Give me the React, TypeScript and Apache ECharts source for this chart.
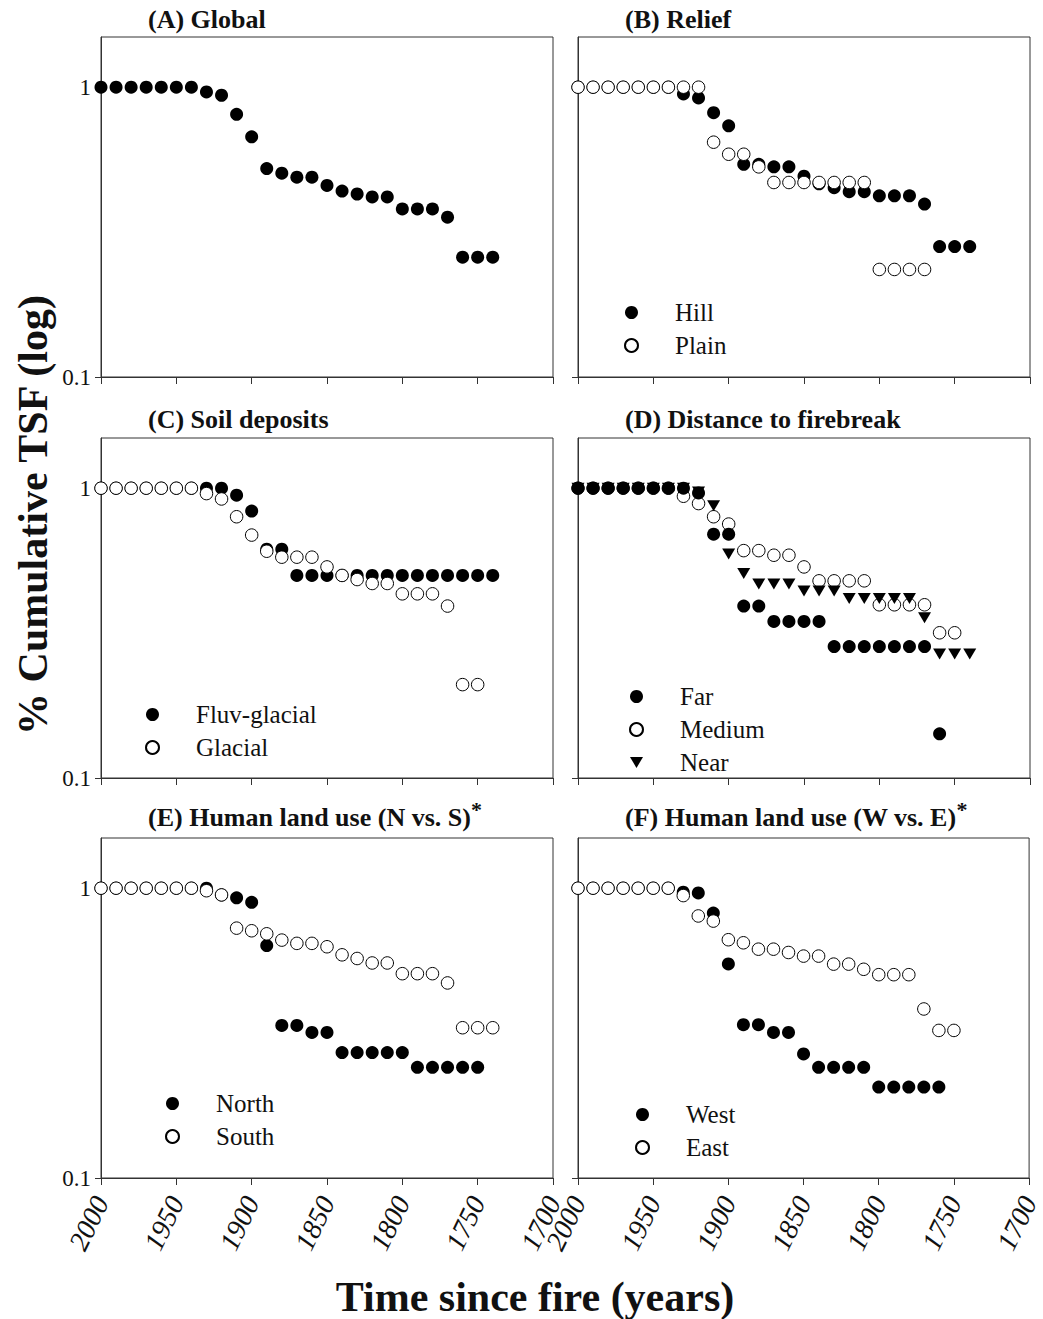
import React, { useEffect, useRef } from "react";
import * as echarts from "echarts";

// Years (time since fire), one point per decade, starting at 2000
const YEARS = [2000, 1990, 1980, 1970, 1960, 1950, 1940, 1930, 1920, 1910, 1900, 1890, 1880, 1870, 1860, 1850, 1840, 1830, 1820, 1810, 1800, 1790, 1780, 1770, 1760, 1750, 1740];

const X_TICKS = [2000, 1950, 1900, 1850, 1800, 1750, 1700];
const Y_TICKS = [0.1, 1];

// (A) Global
const globalAll = [1, 1, 1, 1, 1, 1, 1, 0.963, 0.938, 0.806, 0.674, 0.524, 0.505, 0.489, 0.489, 0.458, 0.438, 0.428, 0.418, 0.418, 0.38, 0.38, 0.38, 0.356, 0.259, 0.259, 0.259];
// (B) Relief
const reliefHill = [1, 1, 1, 1, 1, 1, 1, 0.948, 0.918, 0.817, 0.736, 0.542, 0.542, 0.531, 0.531, 0.493, 0.464, 0.45, 0.436, 0.436, 0.422, 0.422, 0.422, 0.395, 0.282, 0.282, 0.282];
const reliefPlain = [1, 1, 1, 1, 1, 1, 1, 1, 1, 0.646, 0.587, 0.587, 0.531, 0.469, 0.469, 0.469, 0.469, 0.469, 0.469, 0.469, 0.235, 0.235, 0.235, 0.235];
// (C) Soil deposits
const soilFluv = [1, 1, 1, 1, 1, 1, 1, 1, 1, 0.946, 0.834, 0.616, 0.616, 0.5, 0.5, 0.5, 0.5, 0.5, 0.5, 0.5, 0.5, 0.5, 0.5, 0.5, 0.5, 0.5, 0.5];
const soilGlacial = [1, 1, 1, 1, 1, 1, 1, 0.958, 0.918, 0.797, 0.689, 0.606, 0.578, 0.578, 0.578, 0.535, 0.5, 0.484, 0.469, 0.469, 0.432, 0.432, 0.432, 0.392, 0.21, 0.21];
// (D) Distance to firebreak
const distFar = [1, 1, 1, 1, 1, 1, 1, 1, 0.963, 0.694, 0.694, 0.392, 0.392, 0.347, 0.347, 0.347, 0.347, 0.284, 0.284, 0.284, 0.284, 0.284, 0.284, 0.284, 0.142];
const distMedium = [1, 1, 1, 1, 1, 1, 1, 0.938, 0.885, 0.797, 0.752, 0.609, 0.609, 0.587, 0.587, 0.535, 0.479, 0.479, 0.479, 0.479, 0.396, 0.396, 0.396, 0.396, 0.317, 0.317];
const distNear = [1, 1, 1, 1, 1, 1, 1, 1, 0.97, 0.87, 0.593, 0.508, 0.467, 0.467, 0.467, 0.442, 0.442, 0.442, 0.416, 0.416, 0.416, 0.416, 0.416, 0.357, 0.268, 0.268, 0.268];
// (E) Human land use N vs S
const landNorth = [1, 1, 1, 1, 1, 1, 1, 1, 0.948, 0.926, 0.894, 0.634, 0.336, 0.336, 0.318, 0.318, 0.271, 0.271, 0.271, 0.271, 0.271, 0.241, 0.241, 0.241, 0.241, 0.241];
const landSouth = [1, 1, 1, 1, 1, 1, 1, 0.98, 0.948, 0.728, 0.713, 0.696, 0.662, 0.645, 0.645, 0.628, 0.589, 0.572, 0.552, 0.552, 0.507, 0.507, 0.507, 0.471, 0.33, 0.33, 0.33];
// (F) Human land use W vs E
const landWest = [1, 1, 1, 1, 1, 1, 1, 0.969, 0.963, 0.821, 0.548, 0.338, 0.338, 0.318, 0.318, 0.268, 0.241, 0.241, 0.241, 0.241, 0.206, 0.206, 0.206, 0.206, 0.206];
const landEast = [1, 1, 1, 1, 1, 1, 1, 0.943, 0.802, 0.77, 0.664, 0.648, 0.616, 0.616, 0.6, 0.583, 0.583, 0.547, 0.547, 0.525, 0.503, 0.503, 0.503, 0.383, 0.323, 0.323];

const PANEL_TITLES = [
  "(A) Global",
  "(B) Relief",
  "(C) Soil deposits",
  "(D) Distance to firebreak",
  "(E) Human land use (N vs. S)",
  "(F) Human land use (W vs. E)",
];
const STARRED = [false, false, false, false, true, true];

const SERIF = '"Liberation Serif", "DejaVu Serif", serif';
const INK = "#111111";
const DOWN_TRIANGLE = "path://M0,0 L12,0 L6,10 Z";

type Kind = "filled" | "open" | "tri";
const PANELS: { name: string; data: number[]; kind: Kind }[][] = [
  [{ name: "All", data: globalAll, kind: "filled" }],
  [
    { name: "Hill", data: reliefHill, kind: "filled" },
    { name: "Plain", data: reliefPlain, kind: "open" },
  ],
  [
    { name: "Fluv-glacial", data: soilFluv, kind: "filled" },
    { name: "Glacial", data: soilGlacial, kind: "open" },
  ],
  [
    { name: "Medium", data: distMedium, kind: "open" },
    { name: "Far", data: distFar, kind: "filled" },
    { name: "Near", data: distNear, kind: "tri" },
  ],
  [
    { name: "North", data: landNorth, kind: "filled" },
    { name: "South", data: landSouth, kind: "open" },
  ],
  [
    { name: "West", data: landWest, kind: "filled" },
    { name: "East", data: landEast, kind: "open" },
  ],
];

const LEGENDS: { panel: number; items: string[]; left: number; top: number }[] = [
  { panel: 1, items: ["Hill", "Plain"], left: 624, top: 300 },
  { panel: 2, items: ["Fluv-glacial", "Glacial"], left: 145, top: 702 },
  { panel: 3, items: ["Far", "Medium", "Near"], left: 629, top: 684 },
  { panel: 4, items: ["North", "South"], left: 165, top: 1091 },
  { panel: 5, items: ["West", "East"], left: 635, top: 1102 },
];

const COL_LEFT = [101, 578];
const ROW_TOP = [37, 438, 838];
const GRID_W = 452;
const GRID_H = 340;
const TITLE_TOP = [4, 404, 802];

export default function App() {
  const ref = useRef<HTMLDivElement>(null);

  useEffect(() => {
    if (!ref.current) return;
    const chart = echarts.init(ref.current, null, { renderer: "svg" });

    const grids: any[] = [];
    const xAxes: any[] = [];
    const yAxes: any[] = [];
    const titles: any[] = [];
    const series: any[] = [];

    for (let p = 0; p < 6; p++) {
      const col = p % 2;
      const row = Math.floor(p / 2);
      grids.push({
        left: COL_LEFT[col],
        top: ROW_TOP[row],
        width: GRID_W,
        height: GRID_H,
        show: true,
        borderColor: "#333",
        borderWidth: 1,
        backgroundColor: "transparent",
      });
      xAxes.push({
        gridIndex: p,
        type: "value",
        min: 1700,
        max: 2000,
        interval: 50,
        inverse: true,
        axisLine: { show: true, onZero: false, lineStyle: { color: "#333", width: 1 } },
        axisTick: { show: true, inside: false, length: 7, customValues: X_TICKS, lineStyle: { color: "#333", width: 1 } },
        axisLabel: {
          show: row === 2,
          customValues: X_TICKS,
          rotate: 64,
          fontFamily: SERIF,
          fontStyle: "italic",
          fontSize: 28,
          color: INK,
          margin: 20,
          formatter: (v: number) => String(Math.round(v)),
        },
        splitLine: { show: false },
      });
      yAxes.push({
        gridIndex: p,
        type: "log",
        logBase: 10,
        min: 0.1,
        max: 1.49,
        axisLine: { show: true, onZero: false, lineStyle: { color: "#333", width: 1 } },
        axisTick: { show: true, inside: false, length: 6, customValues: Y_TICKS, lineStyle: { color: "#333", width: 1 } },
        axisLabel: {
          show: col === 0,
          customValues: Y_TICKS,
          fontFamily: SERIF,
          fontSize: 23,
          color: INK,
          margin: 10,
          formatter: (v: number) => (Math.abs(v - 1) < 1e-6 ? "1" : "0.1"),
        },
        splitLine: { show: false },
        minorTick: { show: false },
      });
      titles.push({
        text: STARRED[p] ? `{a|${PANEL_TITLES[p]}}{s|*}` : `{a|${PANEL_TITLES[p]}}`,
        left: COL_LEFT[col] + 47,
        top: TITLE_TOP[row],
        padding: 0,
        textStyle: {
          rich: {
            a: { fontFamily: SERIF, fontWeight: "bold", fontSize: 26, color: INK, lineHeight: 30 },
            s: { fontFamily: SERIF, fontWeight: "bold", fontSize: 22, color: INK, padding: [0, 0, 16, 0], lineHeight: 22 },
          },
        },
      });
      for (const s of PANELS[p]) {
        const style =
          s.kind === "open"
            ? { color: "#ffffff", borderColor: "#000000", borderWidth: 1, opacity: 1 }
            : { color: "#000000", borderColor: "#000000", borderWidth: 0, opacity: 1 };
        series.push({
          type: "scatter",
          name: s.name,
          xAxisIndex: p,
          yAxisIndex: p,
          symbol: s.kind === "tri" ? "triangle" : "circle",
          symbolRotate: s.kind === "tri" ? 180 : 0,
          symbolSize: s.kind === "tri" ? [13, 11] : s.kind === "open" ? 12.5 : 13,
          itemStyle: style,
          emphasis: { disabled: true },
          data: s.data.map((v, i) => [YEARS[i], v]),
        });
      }
    }

    const legends = LEGENDS.map((l) => ({
      data: l.items.map((name) => (name === "Near" ? { name, icon: DOWN_TRIANGLE } : { name })),
      left: l.left,
      top: l.top,
      orient: "vertical",
      itemWidth: 13,
      itemHeight: 13,
      itemGap: 8,
      padding: 0,
      selectedMode: false,
      textStyle: {
        fontFamily: SERIF,
        fontSize: 25,
        color: INK,
        lineHeight: 25,
        padding: [0, 0, 0, 32],
      },
    }));

    chart.setOption({
      animation: false,
      backgroundColor: "#ffffff",
      title: titles,
      grid: grids,
      xAxis: xAxes,
      yAxis: yAxes,
      legend: legends,
      series,
      graphic: [
        {
          type: "text",
          x: 33,
          y: 515,
          rotation: Math.PI / 2,
          style: {
            text: "% Cumulative TSF (log)",
            font: `bold 42px ${SERIF}`,
            fill: INK,
            align: "center",
            verticalAlign: "middle",
          },
        },
        {
          type: "text",
          x: 535,
          y: 1297,
          style: {
            text: "Time since fire (years)",
            font: `bold 42px ${SERIF}`,
            fill: INK,
            align: "center",
            verticalAlign: "middle",
          },
        },
      ],
    });

    return () => chart.dispose();
  }, []);

  return (
    <div
      ref={ref}
      style={{ position: "absolute", left: 0, top: 0, width: 1043, height: 1319, background: "#fff" }}
    />
  );
}
